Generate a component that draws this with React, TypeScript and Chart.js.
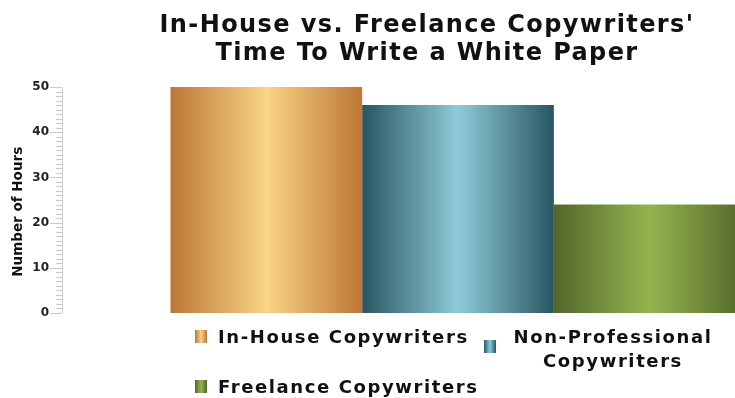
import React, { useEffect, useRef } from "react";
import { Chart, registerables } from "chart.js";

Chart.register(...registerables);

const titleLines = ["In-House vs. Freelance Copywriters'", "Time To Write a White Paper"];
const yAxisTitle = "Number of Hours";
const categories = ["White Paper"];
const seriesNames = ["In-House Copywriters", "Non-Professional Copywriters", "Freelance Copywriters"];
const legendLines = [["In-House Copywriters"], ["Non-Professional", "Copywriters"], ["Freelance Copywriters"]];
const seriesValues = [50, 46, 24];
const yTicks = [0, 10, 20, 30, 40, 50];
const seriesEdge = ["#bd7636", "#285561", "#52662a"];
const seriesMid = ["#f9d487", "#8ecbd8", "#95b44f"];

const FONT = "'DejaVu Sans', Verdana, sans-serif";

const gradientPlugin = {
  id: "barGradient",
  beforeDraw(chart: any) {
    chart.ctx.letterSpacing = "1.4px";
  },
  beforeDatasetsDraw(chart: any) {
    const ctx = chart.ctx;
    ctx.letterSpacing = "0px";
    chart.data.datasets.forEach((_: any, di: number) => {
      const meta = chart.getDatasetMeta(di);
      meta.data.forEach((el: any) => {
        const l = el.x - el.width / 2;
        const r = el.x + el.width / 2;
        const g = ctx.createLinearGradient(l, 0, r, 0);
        g.addColorStop(0, seriesEdge[di]);
        g.addColorStop(0.5, seriesMid[di]);
        g.addColorStop(1, seriesEdge[di]);
        el.options = Object.assign({}, el.options, { backgroundColor: g });
      });
    });
  },
};

const minorTickPlugin = {
  id: "minorTicks",
  afterDraw(chart: any) {
    const y = chart.scales.y;
    const ctx = chart.ctx;
    const x0 = chart.chartArea.left;
    ctx.save();
    ctx.strokeStyle = "#cccccc";
    ctx.lineWidth = 1;
    const max = yTicks[yTicks.length - 1];
    for (let v = 0; v <= max; v++) {
      const py = Math.round(y.getPixelForValue(v)) + 0.5;
      const len = v % 10 === 0 ? 12 : 6;
      ctx.beginPath();
      ctx.moveTo(x0 - len, py);
      ctx.lineTo(x0, py);
      ctx.stroke();
    }
    ctx.beginPath();
    ctx.moveTo(x0 + 0.5, y.getPixelForValue(max));
    ctx.lineTo(x0 + 0.5, y.getPixelForValue(0));
    ctx.stroke();
    ctx.restore();
  },
};

function legendBox(i: number) {
  return `linear-gradient(to right, ${seriesEdge[i]}, ${seriesMid[i]}, ${seriesEdge[i]})`;
}

export default function App() {
  const ref = useRef<HTMLCanvasElement | null>(null);

  useEffect(() => {
    document.body.style.margin = "0";
    const chart = new Chart(ref.current as HTMLCanvasElement, {
      type: "bar",
      data: {
        labels: categories,
        datasets: seriesNames.map((name, i) => ({
          label: name,
          data: [seriesValues[i]],
          backgroundColor: seriesEdge[i],
          borderWidth: 0,
          categoryPercentage: 0.726,
          barPercentage: 1,
        })),
      },
      options: {
        animation: false,
        responsive: false,
        maintainAspectRatio: false,
        layout: { padding: { left: 0, right: 2, top: 0, bottom: 85 } },
        plugins: {
          legend: { display: false },
          tooltip: { enabled: false },
          title: {
            display: true,
            text: titleLines,
            color: "#111",
            font: { family: FONT, size: 24, weight: "bold", lineHeight: 1.167 },
            padding: { top: 12, bottom: 19 },
          },
        },
        scales: {
          x: { display: false },
          y: {
            min: 0,
            max: 50,
            afterFit(scale: any) {
              scale.width = 62;
            },
            afterBuildTicks(scale: any) {
              scale.ticks = yTicks.map((v) => ({ value: v }));
            },
            ticks: {
              color: "#222",
              padding: 13,
              z: 1,
              font: { family: FONT, size: 12, weight: "bold" },
            },
            grid: { display: false, drawTicks: false, z: 1 },
            border: { display: false, z: 1 },
            title: {
              display: true,
              text: yAxisTitle + "\u00a0\u00a0\u00a0\u00a0\u00a0",
              color: "#111",
              font: { family: FONT, size: 13.5, weight: "bold" },
              padding: { top: 10, bottom: 0 },
            },
          },
        },
      },
      plugins: [gradientPlugin, minorTickPlugin],
    });
    return () => chart.destroy();
  }, []);

  const textStyle: React.CSSProperties = {
    position: "absolute",
    fontFamily: FONT,
    fontWeight: "bold",
    fontSize: 18,
    letterSpacing: "1.6px",
    lineHeight: "24px",
    color: "#111",
    whiteSpace: "nowrap",
  };
  const boxStyle = (i: number, left: number, top: number): React.CSSProperties => ({
    position: "absolute",
    left,
    top,
    width: 12,
    height: 13,
    background: legendBox(i),
  });

  return (
    <div style={{ position: "fixed", left: 0, top: 0, width: 735, height: 398, overflow: "hidden", background: "#fff" }}>
      <canvas ref={ref} width={856} height={398} style={{ display: "block" }} />
      <div style={boxStyle(0, 195, 330)} />
      <div style={{ ...textStyle, left: 218, top: 325 }}>{legendLines[0].join(" ")}</div>
      <div style={boxStyle(1, 484, 340)} />
      <div style={{ ...textStyle, left: 508, width: 210, top: 325, textAlign: "center" }}>
        {legendLines[1].map((t, k) => (
          <div key={k}>{t}</div>
        ))}
      </div>
      <div style={boxStyle(2, 195, 380)} />
      <div style={{ ...textStyle, left: 218, top: 375 }}>{legendLines[2].join(" ")}</div>
    </div>
  );
}
